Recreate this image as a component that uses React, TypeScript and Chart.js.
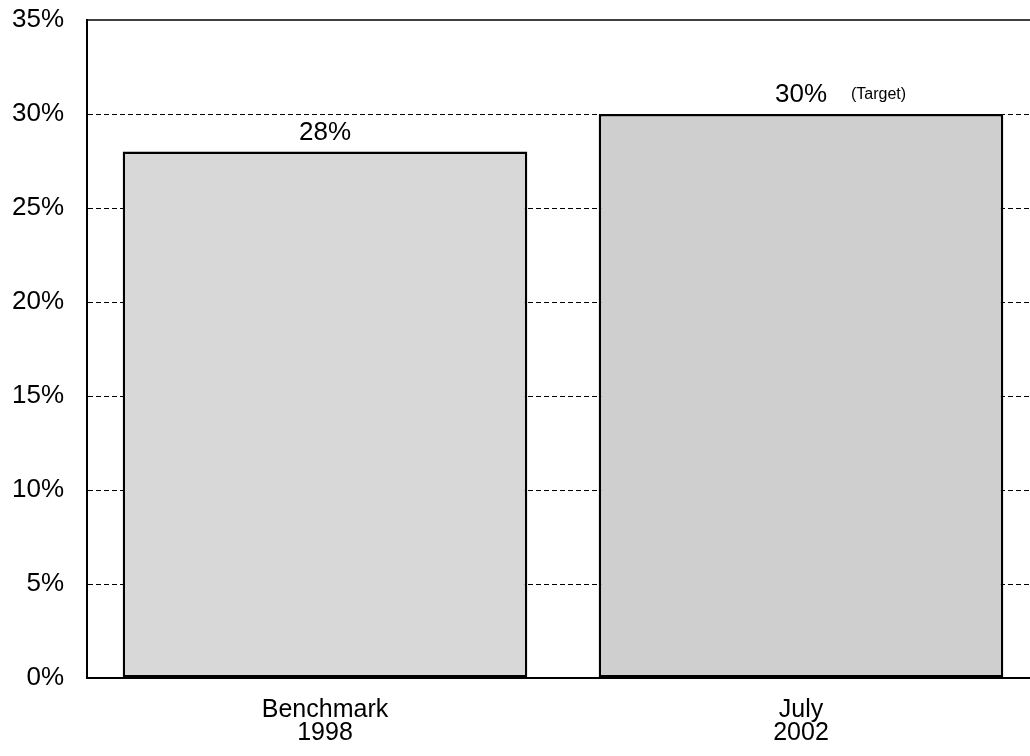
import React, { useEffect, useRef } from "react";
import { Chart, registerables } from "chart.js";

Chart.register(...registerables);

const categories: string[][] = [["Benchmark", "1998"], ["July", "2002"]];
const values: number[] = [28, 30];
const valueLabels: string[] = ["28%", "30%"];
const noteLabels: string[] = ["", "(Target)"];
const barColors: string[] = ["#d8d8d8", "#cfcfcf"];
const yMin = 0;
const yMax = 35;
const yStep = 5;

const FONT = "'Liberation Sans', Arial, Helvetica, sans-serif";

const labelPlugin = {
  id: "valueLabels",
  afterDatasetsDraw(chart: any) {
    const ctx = chart.ctx;
    const meta = chart.getDatasetMeta(0);
    ctx.save();
    ctx.fillStyle = "#000";
    ctx.textBaseline = "alphabetic";
    meta.data.forEach((bar: any, i: number) => {
      ctx.font = `26px ${FONT}`;
      ctx.textAlign = "center";
      const y = bar.y - 12;
      ctx.fillText(valueLabels[i], bar.x, y);
      if (noteLabels[i]) {
        const w = ctx.measureText(valueLabels[i]).width;
        ctx.font = `16px ${FONT}`;
        ctx.textAlign = "left";
        ctx.fillText(noteLabels[i], bar.x + w / 2 + 24, y - 3);
      }
    });
    ctx.restore();
  },
  afterDraw(chart: any) {
    const { ctx, chartArea } = chart;
    ctx.save();
    ctx.strokeStyle = "#000";
    ctx.lineWidth = 1.5;
    ctx.beginPath();
    ctx.moveTo(chartArea.left, chartArea.top);
    ctx.lineTo(chartArea.right + 20, chartArea.top);
    ctx.stroke();
    ctx.restore();
  },
};

export default function App() {
  const ref = useRef<HTMLCanvasElement | null>(null);
  useEffect(() => {
    document.body.style.overflow = "hidden";
    const chart = new Chart(ref.current as HTMLCanvasElement, {
      type: "bar",
      data: {
        labels: categories as any,
        datasets: [
          {
            data: values,
            backgroundColor: barColors,
            borderColor: "#000",
            borderWidth: 2.5,
            borderSkipped: false,
            barPercentage: 0.85,
            categoryPercentage: 1,
          },
        ],
      },
      options: {
        animation: false,
        responsive: false,
        maintainAspectRatio: false,
        layout: { padding: { left: 0, top: 20, right: 11, bottom: 0 } },
        plugins: { legend: { display: false }, tooltip: { enabled: false } },
        scales: {
          x: {
            grid: { display: false, drawTicks: false },
            border: { display: true, color: "#000", width: 2 },
            ticks: {
              color: "#000",
              font: { family: FONT, size: 25, lineHeight: 0.9 },
              padding: 21,
              maxRotation: 0,
            },
            afterFit(scale: any) {
              scale.height = 78;
            },
          },
          y: {
            min: yMin,
            max: yMax,
            ticks: {
              stepSize: yStep,
              color: "#000",
              font: { family: FONT, size: 26 },
              padding: 23,
              callback: (v: any) => `${v}%`,
            },
            grid: {
              drawTicks: false,
              color: (c: any) =>
                c.tick && (c.tick.value === yMin || c.tick.value === yMax) ? "rgba(0,0,0,0)" : "#000",
              lineWidth: 1,
            },
            border: { display: true, color: "#000", width: 2, dash: [5, 3] },
            afterFit(scale: any) {
              scale.width = 87;
              scale.paddingTop = 0;
              scale.paddingBottom = 0;
            },
          },
        },
      },
      plugins: [labelPlugin],
    });
    return () => chart.destroy();
  }, []);
  return (
    <canvas
      ref={ref}
      width={1050}
      height={756}
      style={{ position: "absolute", left: 0, top: 0, width: 1050, height: 756 }}
    />
  );
}
